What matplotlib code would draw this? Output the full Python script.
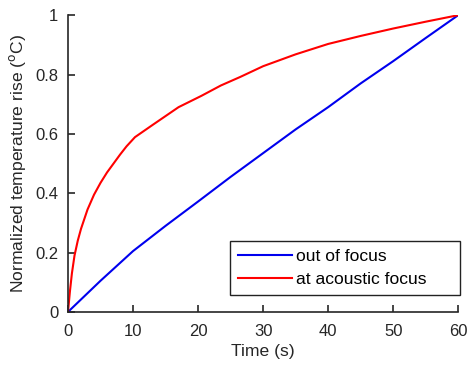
import matplotlib
matplotlib.use("Agg")
import matplotlib.pyplot as plt

plt.rcParams["font.family"] = ["Liberation Sans", "DejaVu Sans"]

# values
t_blue = [0, 5, 10, 15, 20, 25, 30, 35, 40, 45, 50, 55, 60]
out_focus = [0, 0.105, 0.205, 0.29, 0.372, 0.455, 0.535, 0.615, 0.69, 0.77, 0.845, 0.923, 1.0]

t_red = [0, 0.3, 0.6, 1, 1.5, 2, 3, 4, 5, 6, 7, 8, 9, 10.3, 13, 17, 20.5, 23.5, 26.5, 30, 35, 40, 45, 50, 55, 60]
at_focus = [0, 0.07, 0.13, 0.19, 0.24, 0.28, 0.345, 0.395, 0.435, 0.47, 0.5, 0.53, 0.558, 0.589,
            0.63, 0.69, 0.728, 0.763, 0.792, 0.828, 0.868, 0.903, 0.93, 0.955, 0.978, 1.0]

fig = plt.figure(figsize=(4.69, 3.70), dpi=100)
ax = fig.add_axes([0.145, 0.157, 0.832, 0.802])

ax.plot(t_blue, out_focus, color="#0000ee", lw=1.5, label="out of focus")
ax.plot(t_red, at_focus, color="#ff0000", lw=1.5, label="at acoustic focus")

ax.set_xlim(0, 60)
ax.set_ylim(0, 1)
ax.set_xticks([0, 10, 20, 30, 40, 50, 60])
ax.set_yticks([0, 0.2, 0.4, 0.6, 0.8, 1])
ax.set_yticklabels(["0", "0.2", "0.4", "0.6", "0.8", "1"])

for s in ["top", "right"]:
    ax.spines[s].set_visible(False)
for s in ["left", "bottom"]:
    ax.spines[s].set_color("#262626")
    ax.spines[s].set_linewidth(1.2)
ax.tick_params(direction="in", length=5, width=1.2, color="#262626",
               labelsize=12, labelcolor="#262626")
ax.tick_params(axis="x", pad=9)
ax.tick_params(axis="y", pad=7)

ax.set_xlabel("Time (s)", fontsize=12.6, color="#262626", labelpad=3)
ax.set_ylabel("Normalized temperature rise ($^\\mathrm{o}$C)", fontsize=12.6, color="#262626", labelpad=5)

leg = ax.legend(loc="lower left", bbox_to_anchor=(0.415, 0.057, 0.59, 0.205), mode="expand",
                fontsize=12.6, frameon=True, fancybox=False, edgecolor="#222222", framealpha=1,
                handlelength=3.1, handletextpad=0.25, borderpad=0.45, labelspacing=0.45,
                borderaxespad=0)
leg.get_frame().set_linewidth(1.0)

fig.savefig("out.png", dpi=100)
